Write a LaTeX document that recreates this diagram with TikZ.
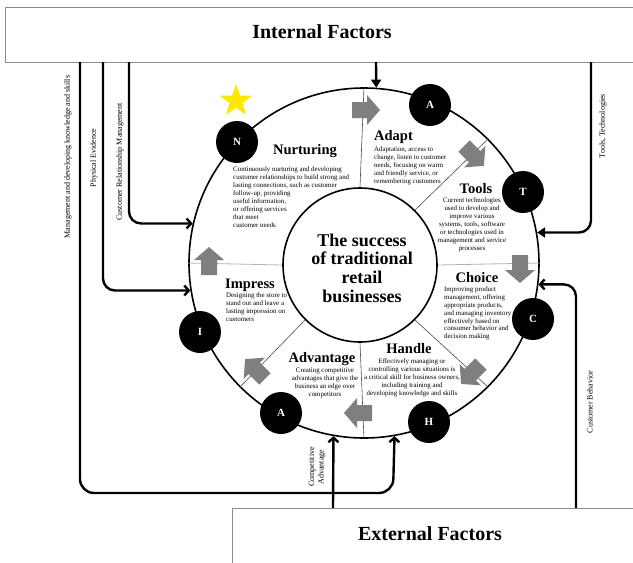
\documentclass[tikz,border=0pt]{standalone}
\usepackage{fontspec}
\setmainfont{Liberation Serif}
\usetikzlibrary{arrows.meta,shapes.geometric}
\definecolor{arrgray}{HTML}{7F7F7F}
\definecolor{staryellow}{HTML}{FFE800}
\tikzset{
  body/.style={font=\fontsize{6.9}{8}\selectfont, inner sep=0pt},
  ttl/.style={font=\fontsize{14.5}{16}\selectfont\bfseries, inner sep=0pt},
  sidelbl/.style={font=\fontsize{8}{9.5}\selectfont, inner sep=0pt, rotate=90},
  letter/.style={circle, fill=black, minimum size=42pt, inner sep=0pt, text=white, font=\fontsize{11}{12}\selectfont\bfseries},
  conn/.style={line width=2.4pt, black},
  divline/.style={line width=0.6pt, black!70},
  divlight/.style={line width=0.8pt, black!30},
  boxline/.style={draw=black!45, line width=0.8pt, inner sep=0pt, anchor=north west},
  garr/.pic={\fill[arrgray] (-14,-8) -- (1,-8) -- (1,-15) -- (14,0) -- (1,15) -- (1,8) -- (-14,8) -- cycle;},
  barb/.style={-{Straight Barb[length=4.5pt,width=10pt]}},
  tri/.style={-{Triangle[length=8pt,width=10pt]}}
}
\begin{document}
\begin{tikzpicture}[x=1pt,y=-1pt]
\useasboundingbox (0,0) rectangle (633,563);
\fill[white] (0,0) rectangle (633,563);

% boxes
\node[boxline, minimum width=660pt, minimum height=55pt] (internal) at (5,7) {};
\node[font=\fontsize{20}{24}\selectfont\bfseries, inner sep=0pt] (internalT) at (322,32) {Internal Factors};
\node[boxline, minimum width=420pt, minimum height=70pt] (external) at (232,508) {};
\node[font=\fontsize{20}{24}\selectfont\bfseries, inner sep=0pt] (externalT) at (430,534) {External Factors};

% circles
\node[circle, draw, line width=1.6pt, minimum size=350pt, inner sep=0pt] (outer) at (364,263) {};
\node[circle, draw, line width=1.6pt, minimum size=154pt, inner sep=0pt] (inner) at (360,265) {};

% dividers
\draw[divline] (inner.90) -- (outer.90);
\draw[divline] (inner.45) -- (outer.45);
\draw[divlight] (inner.0) -- (outer.0);
\draw[divline] (inner.-45) -- (outer.-45);
\draw[divline] (inner.-90) -- (outer.-90);
\draw[divline] (inner.-135) -- (outer.-135);
\draw[divlight] (inner.180) -- (outer.180);

% gray flow arrows
\pic at (366,110) {garr};
\pic[rotate=-45] at (474,156) {garr};
\pic[rotate=-90] at (520,269) {garr};
\pic[rotate=-135] at (471,374) {garr};
\pic[rotate=180] at (358,413) {garr};
\pic[rotate=135] at (255,369) {garr};
\pic[rotate=90] at (209,261) {garr};

% letter circles
\node[letter] (cN) at (237,142) {N};
\node[letter] (cA1) at (430,105) {A};
\node[letter] (cT) at (523,192) {T};
\node[letter] (cC) at (533,319) {C};
\node[letter] (cH) at (429,422) {H};
\node[letter] (cA2) at (281,413) {A};
\node[letter] (cI) at (200,332) {I};
\node[star, star points=5, star point ratio=2.5, fill=staryellow, minimum size=34pt, inner sep=0pt] (star) at (236,101) {};

% center text
\node[font=\fontsize{18}{18.7}\selectfont\bfseries, align=center, inner sep=0pt] (centerT) at (362,268) {The success\\of traditional\\retail\\businesses};

% titles
\node[ttl, anchor=base] (tN) at (305,154) {Nurturing};
\node[ttl, anchor=base west] (tA1) at (374,140) {Adapt};
\node[ttl, anchor=base] (tT) at (476,193) {Tools};
\node[ttl, anchor=base] (tC) at (477,282) {Choice};
\node[ttl, anchor=base] (tH) at (409,353) {Handle};
\node[ttl, anchor=base] (tA2) at (322,362) {Advantage};
\node[ttl, anchor=base] (tI) at (250,288) {Impress};

% bodies
\node[body, align=left, anchor=north west] (bN) at (233,167) {Continuously nurturing and developing\\customer relationships to build strong and\\lasting connections, such as customer\\follow-up, providing\\useful information,\\or offering services\\that meet\\customer needs};
\node[body, align=left, anchor=north west] (bA1) at (374,147) {Adaptation, access to\\change, listen to customer\\needs, focusing on warm\\and friendly service, or\\remembering customers};
\node[body, align=center, anchor=north] (bT) at (472,198) {Current technologies\\used to develop and\\improve various\\systems, tools, software\\or technologies used in\\management and service\\processes};
\node[body, font=\fontsize{6.9}{7.8}\selectfont, align=left, anchor=north west] (bC) at (444,287) {Improving product\\management, offering\\appropriate products,\\and managing inventory\\effectively based on\\consumer behavior and\\decision making};
\node[body, align=center, anchor=north] (bH) at (412,358) {Effectively managing or\\controlling various situations is\\a critical skill for business owners,\\including training and\\developing knowledge and skills};
\node[body, align=center, anchor=north] (bA2) at (325,368) {Creating competitive\\advantages that give the\\business an edge over\\competitors};
\node[body, align=left, anchor=north west] (bI) at (226,293) {Designing the store to\\stand out and leave a\\lasting impression on\\customers};

% connector start points
\coordinate (topS) at (376,62);
\coordinate (mgS) at (80,62);
\coordinate (mgC) at (393,493);
\coordinate (peS) at (103,62);
\coordinate (crmS) at (129,62);
\coordinate (toolS) at (591,62);
\coordinate (cbS) at (576,508);
\coordinate (compS) at (333,508);

% connectors
\draw[conn, tri] (topS) -- (outer.86.07);
\draw[conn, barb, rounded corners=12pt] (crmS) |- (outer.167.8);
\draw[conn, barb, rounded corners=12pt] (peS) |- (outer.189.87);
\draw[conn, barb, rounded corners=14pt] (mgS) |- (mgC) -- (outer.-80.46);
\draw[conn, barb] (compS) -- (outer.-100.2);
\draw[conn, tri, rounded corners=12pt] (toolS) |- (outer.10.87);
\draw[conn, barb, rounded corners=12pt] (cbS) |- (outer.-7.88);

% side labels
\node[sidelbl] (lMg) at (68,157) {Management and developing knowledge and skills};
\node[sidelbl] (lPe) at (94,158) {Physical Evidence};
\node[sidelbl] (lCrm) at (120,162) {Customer Relationship Management};
\node[sidelbl] (lTool) at (603,126) {Tools, Technologies};
\node[sidelbl] (lCb) at (590,402) {Customer Behavior};
\node[sidelbl, align=center] (lComp) at (317,467) {Competitive\\Advantage};
\end{tikzpicture}
\end{document}
